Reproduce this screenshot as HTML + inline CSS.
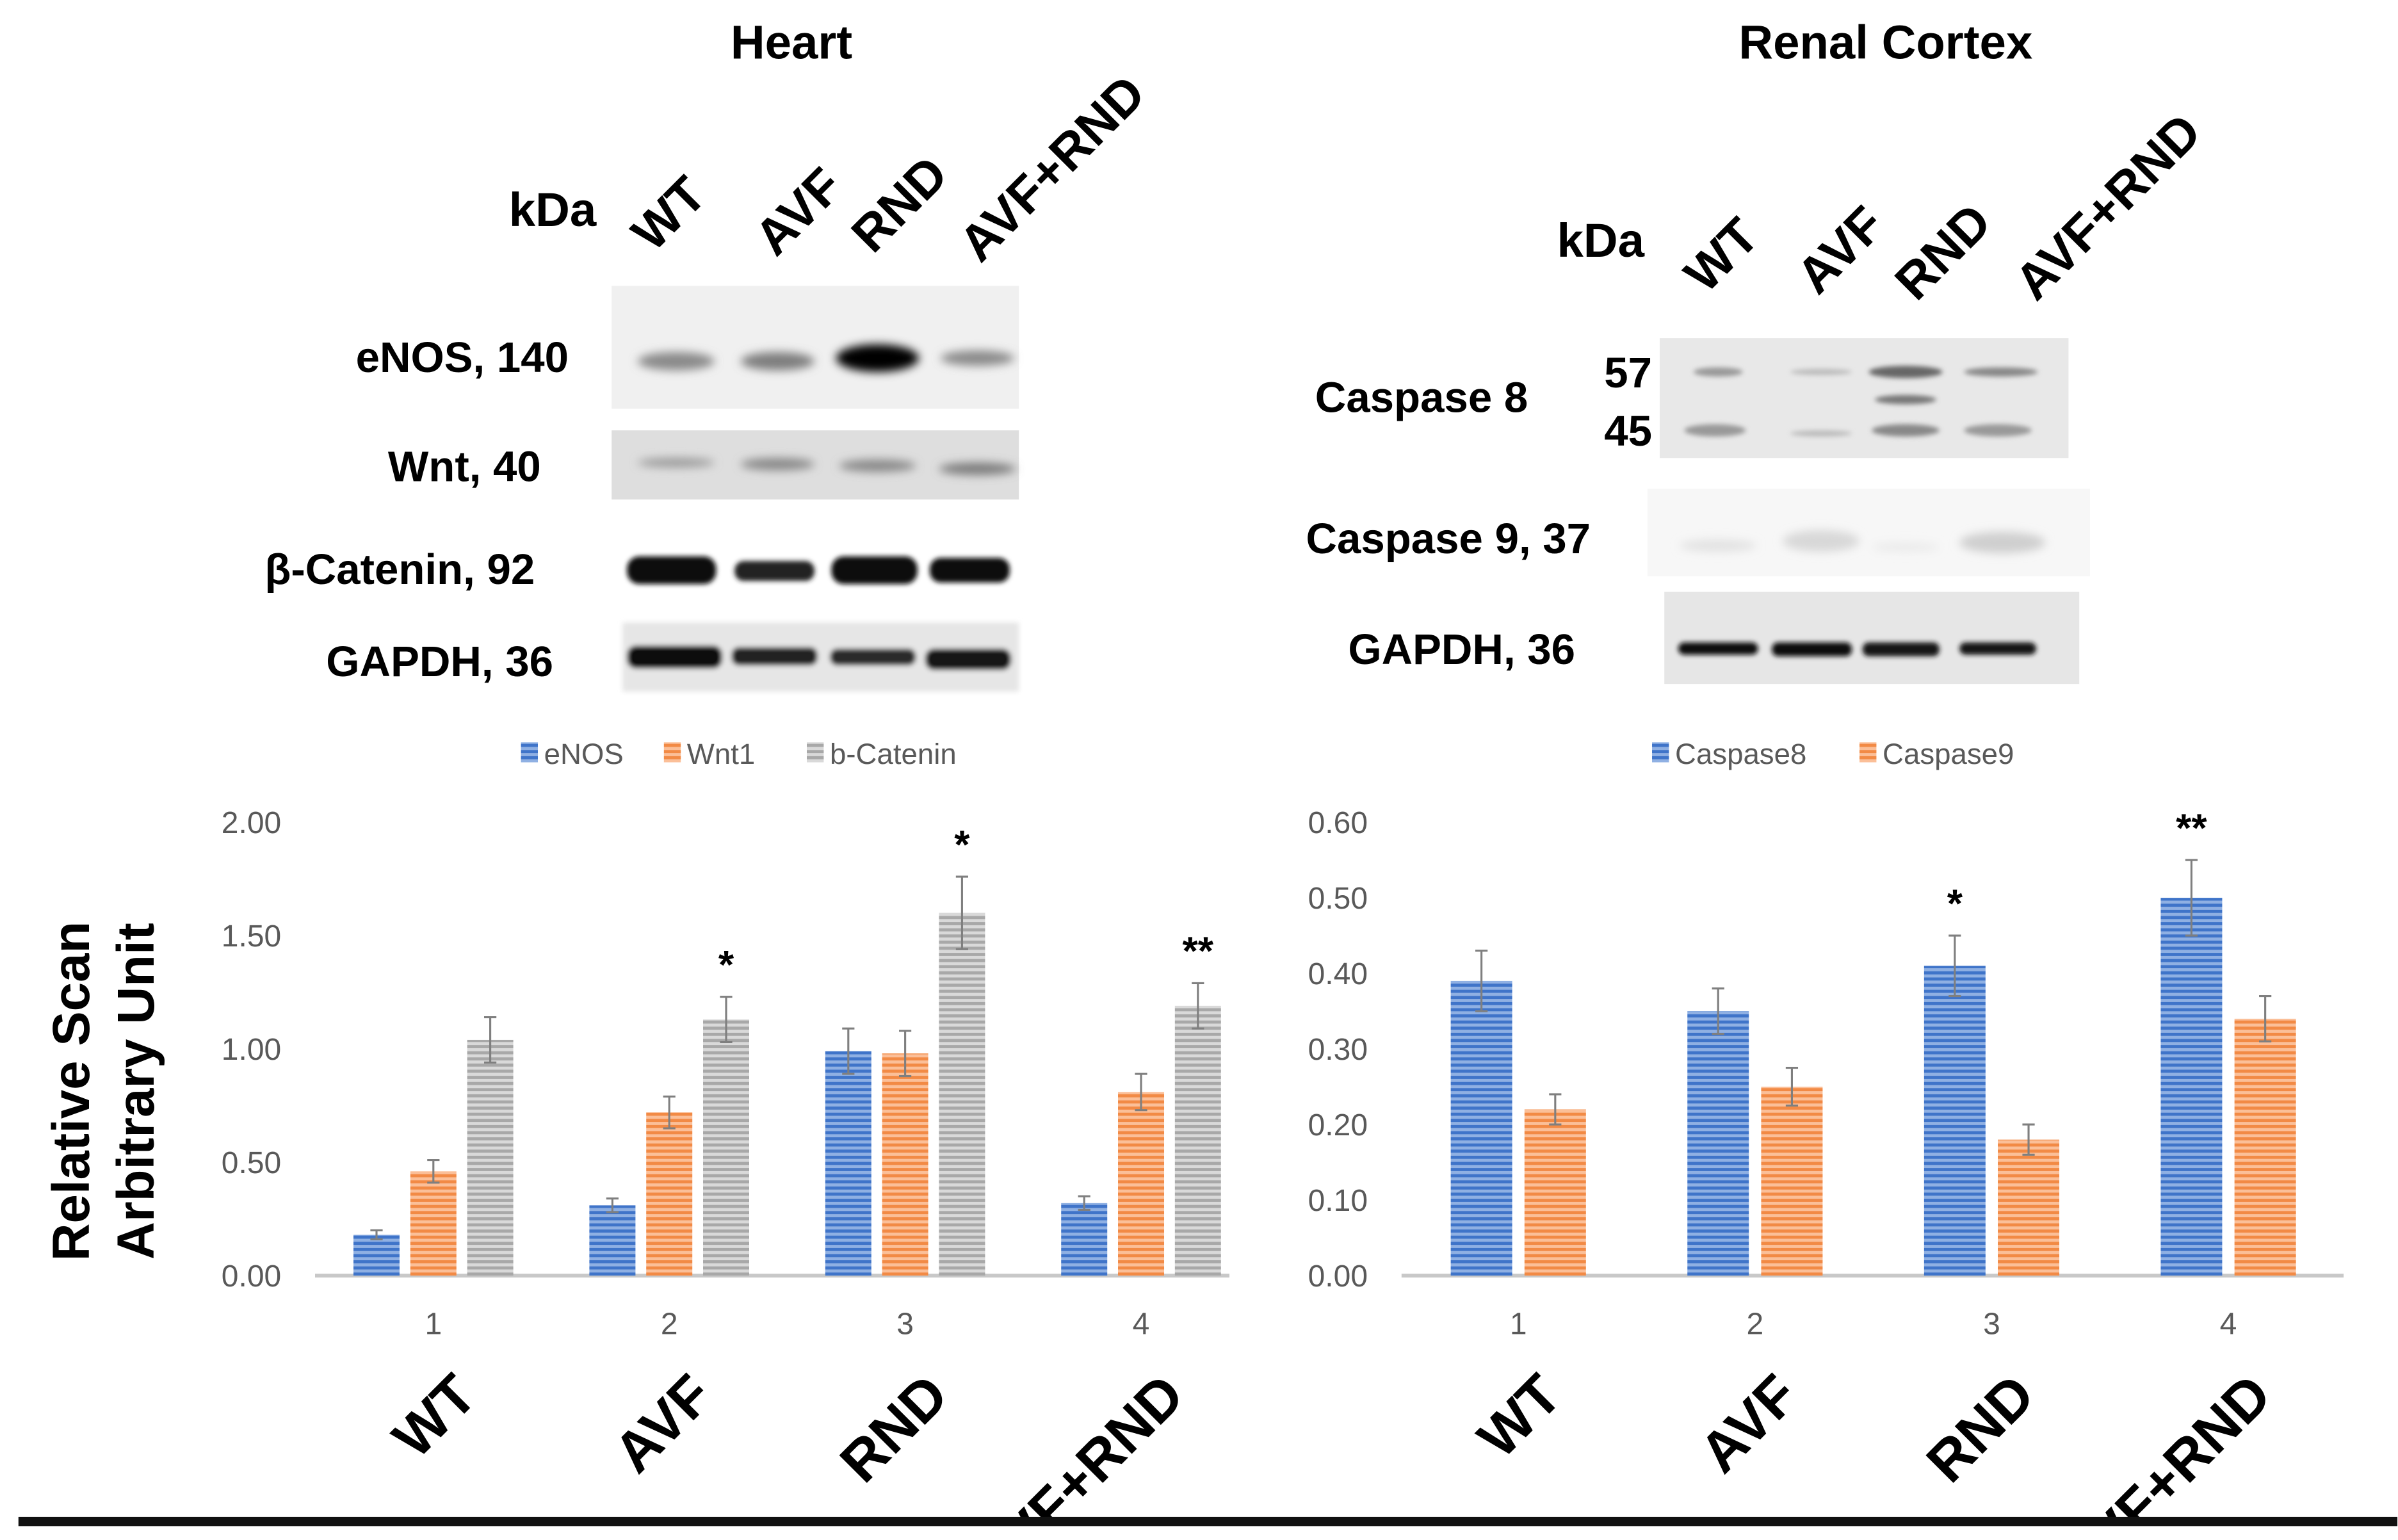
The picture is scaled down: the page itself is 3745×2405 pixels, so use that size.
<!DOCTYPE html>
<html><head><meta charset="utf-8"><style>
html,body{margin:0;padding:0;background:#fff;}
svg{display:block;}
text{font-family:"Liberation Sans",sans-serif;}
.b{font-weight:bold;fill:#000;}
.tk{fill:#595959;font-size:20px;}
</style></head><body>
<svg id="fig" width="3745" height="2405" viewBox="0 0 1560.4 1002" xmlns="http://www.w3.org/2000/svg">
<defs>
<pattern id="pB" width="4" height="4" patternUnits="userSpaceOnUse"><rect width="4" height="4" fill="#8fb0e3"/><rect width="4" height="2" fill="#3f74c9"/></pattern>
<pattern id="pO" width="4" height="4" patternUnits="userSpaceOnUse"><rect width="4" height="4" fill="#fbbf98"/><rect width="4" height="2" fill="#f28a45"/></pattern>
<pattern id="pG" width="4" height="4" patternUnits="userSpaceOnUse"><rect width="4" height="4" fill="#d9d9d9"/><rect width="4" height="2" fill="#a8a8a8"/></pattern>
<filter id="bl" x="-20%" y="-100%" width="140%" height="300%"><feGaussianBlur stdDeviation="3"/></filter>
<filter id="bl2" x="-20%" y="-100%" width="140%" height="300%"><feGaussianBlur stdDeviation="1.5"/></filter>
<clipPath id="clipTop"><rect x="0" y="0" width="1561" height="988"/></clipPath>
</defs>

<!-- Titles -->
<text class="b" x="515" y="38" font-size="31" text-anchor="middle">Heart</text>
<text class="b" x="1227" y="38" font-size="31" text-anchor="middle">Renal Cortex</text>

<!-- Heart blot -->
<g>
<text class="b" x="388" y="147" font-size="31" text-anchor="end">kDa</text>
<text class="b" font-size="33" transform="translate(425,165) rotate(-45)">WT</text>
<text class="b" font-size="33" transform="translate(505,168) rotate(-45)">AVF</text>
<text class="b" font-size="33" transform="translate(568,166) rotate(-45)">RND</text>
<text class="b" font-size="33" transform="translate(638,172) rotate(-45)">AVF+RND</text>
<text class="b" x="370" y="242" font-size="28" text-anchor="end">eNOS, 140</text>
<text class="b" x="352" y="313" font-size="28" text-anchor="end">Wnt, 40</text>
<text class="b" x="348" y="380" font-size="28" text-anchor="end">β-Catenin, 92</text>
<text class="b" x="360" y="440" font-size="28" text-anchor="end">GAPDH, 36</text>
<rect x="398" y="186" width="265" height="80" fill="#f0f0f0"/>
<rect x="398" y="280" width="265" height="45" fill="#dedede"/>
<g filter="url(#bl)">
<ellipse cx="440" cy="235" rx="25" ry="6" fill="#8a8a8a"/>
<ellipse cx="506" cy="235" rx="24" ry="6" fill="#7e7e7e"/>
<ellipse cx="571" cy="233" rx="27" ry="9" fill="#000"/>
<ellipse cx="636" cy="233" rx="24" ry="5" fill="#8a8a8a"/>
<ellipse cx="440" cy="301" rx="25" ry="3" fill="#999"/>
<ellipse cx="506" cy="302" rx="24" ry="4" fill="#888"/>
<ellipse cx="571" cy="303" rx="25" ry="4" fill="#888"/>
<ellipse cx="636" cy="305" rx="25" ry="4" fill="#7a7a7a"/>
</g>
<g filter="url(#bl2)">
<rect x="408" y="362" width="58" height="18" rx="8" fill="#0a0a0a"/>
<rect x="478" y="365" width="52" height="13" rx="6" fill="#222"/>
<rect x="541" y="362" width="56" height="18" rx="8" fill="#0a0a0a"/>
<rect x="605" y="363" width="52" height="16" rx="7" fill="#111"/>
<rect x="405" y="405" width="258" height="45" fill="#e6e6e6"/>
<rect x="408" y="420" width="62" height="15" rx="6" fill="#111"/>
<rect x="476" y="421" width="56" height="12" rx="5" fill="#222"/>
<rect x="540" y="422" width="56" height="11" rx="5" fill="#2a2a2a"/>
<rect x="602" y="422" width="56" height="14" rx="6" fill="#151515"/>
</g>
</g>

<!-- Renal blot -->
<g>
<text class="b" x="1070" y="167" font-size="31" text-anchor="end">kDa</text>
<text class="b" font-size="33" transform="translate(1110,192) rotate(-45)">WT</text>
<text class="b" font-size="33" transform="translate(1183,193) rotate(-45)">AVF</text>
<text class="b" font-size="33" transform="translate(1247,197) rotate(-45)">RND</text>
<text class="b" font-size="33" transform="translate(1325,197) rotate(-45)">AVF+RND</text>
<text class="b" x="925" y="268" font-size="28" text-anchor="middle">Caspase 8</text>
<text class="b" x="1075" y="252" font-size="28" text-anchor="end">57</text>
<text class="b" x="1075" y="290" font-size="28" text-anchor="end">45</text>
<text class="b" x="1035" y="360" font-size="28" text-anchor="end">Caspase 9, 37</text>
<text class="b" x="1025" y="432" font-size="28" text-anchor="end">GAPDH, 36</text>
<rect x="1080" y="220" width="266" height="78" fill="#e8e8e8"/>
<rect x="1072" y="318" width="288" height="57" fill="#f7f7f7"/>
<rect x="1083" y="385" width="270" height="60" fill="#e6e6e6"/>
<g filter="url(#bl2)">
<ellipse cx="1118" cy="242" rx="16" ry="3" fill="#999"/>
<ellipse cx="1185" cy="242" rx="20" ry="2" fill="#bbb"/>
<ellipse cx="1240" cy="242" rx="24" ry="4" fill="#666"/>
<ellipse cx="1240" cy="260" rx="20" ry="3" fill="#777"/>
<ellipse cx="1302" cy="242" rx="24" ry="3" fill="#888"/>
<ellipse cx="1116" cy="280" rx="20" ry="4" fill="#999"/>
<ellipse cx="1185" cy="282" rx="20" ry="2" fill="#bbb"/>
<ellipse cx="1240" cy="280" rx="22" ry="4" fill="#888"/>
<ellipse cx="1300" cy="280" rx="22" ry="4" fill="#999"/>
<rect x="1092" y="418" width="52" height="8" rx="4" fill="#111"/>
<rect x="1153" y="418" width="52" height="9" rx="4" fill="#111"/>
<rect x="1212" y="418" width="50" height="9" rx="4" fill="#151515"/>
<rect x="1275" y="418" width="50" height="8" rx="4" fill="#151515"/>
</g>
<g filter="url(#bl)">
<ellipse cx="1118" cy="355" rx="25" ry="4" fill="#e2e2e2"/>
<ellipse cx="1185" cy="352" rx="25" ry="7" fill="#d8d8d8"/>
<ellipse cx="1240" cy="356" rx="22" ry="3" fill="#eaeaea"/>
<ellipse cx="1303" cy="353" rx="28" ry="7" fill="#cfcfcf"/>
</g>
</g>

<!-- Y title -->
<text class="b" font-size="34" transform="translate(58,710) rotate(-90)" text-anchor="middle">Relative Scan</text>
<text class="b" font-size="34" transform="translate(100,710) rotate(-90)" text-anchor="middle">Arbitrary Unit</text>

<g clip-path="url(#clipTop)">
<g id="heartChart"></g>
<g id="renalChart"></g>
</g>

<rect x="12" y="987" width="1548" height="6" fill="#111"/>
</svg>
<script>
// Heart chart data
const heartCategories = ["1", "2", "3", "4"];
const heartGroupLabels = ["WT", "AVF", "RND", "AVF+RND"];
const heartSeriesNames = ["eNOS", "Wnt1", "b-Catenin"];
const eNOSValues = [0.18, 0.31, 0.99, 0.32];
const eNOSErrors = [0.02, 0.03, 0.10, 0.03];
const wnt1Values = [0.46, 0.72, 0.98, 0.81];
const wnt1Errors = [0.05, 0.07, 0.10, 0.08];
const bCateninValues = [1.04, 1.13, 1.60, 1.19];
const bCateninErrors = [0.10, 0.10, 0.16, 0.10];
const heartStars = ["", "*", "*", "**"];
const heartTicks = [0, 0.5, 1.0, 1.5, 2.0];
const heartTickLabels = ["0.00", "0.50", "1.00", "1.50", "2.00"];
// Renal chart data
const renalCategories = ["1", "2", "3", "4"];
const renalGroupLabels = ["WT", "AVF", "RND", "AVF+RND"];
const renalSeriesNames = ["Caspase8", "Caspase9"];
const casp8Values = [0.39, 0.35, 0.41, 0.50];
const casp8Errors = [0.04, 0.03, 0.04, 0.05];
const casp9Values = [0.22, 0.25, 0.18, 0.34];
const casp9Errors = [0.02, 0.025, 0.02, 0.03];
const renalStars = ["", "", "*", "**"];
const renalTicks = [0, 0.1, 0.2, 0.3, 0.4, 0.5, 0.6];
const renalTickLabels = ["0.00", "0.10", "0.20", "0.30", "0.40", "0.50", "0.60"];

const NS = "http://www.w3.org/2000/svg";
function mk(parent, tag, attrs, txt) {
  const e = document.createElementNS(NS, tag);
  for (const k in attrs) e.setAttribute(k, attrs[k]);
  if (txt !== undefined) e.textContent = txt;
  parent.appendChild(e);
  return e;
}

function drawChart(g, cfg) {
  const y = v => cfg.y0 - (v / cfg.yMax) * (cfg.y0 - cfg.yTop);
  const xg = i => cfg.x1 + cfg.groupStep * i;
  cfg.ticks.forEach((t, i) => {
    const tl = mk(g, "text", {x: cfg.labelX, y: y(t) + 7, "text-anchor": "end", class: "tk"}, cfg.tickLabels[i]);
    
    
  });
  const ax = mk(g, "line", {x1: cfg.axL, x2: cfg.axR, y1: cfg.y0, y2: cfg.y0, stroke: "#c8c8c8", "stroke-width": 2.5});
  
  
  const ns = cfg.series.length;
  cfg.categories.forEach((c, i) => {
    const cx = xg(i);
    cfg.series.forEach((s, j) => {
      const bx = cx + (j - (ns - 1) / 2) * cfg.barStep - cfg.barW / 2;
      const v = s.values[i], e = s.errors[i];
      const r = mk(g, "rect", {x: bx, y: y(v), width: cfg.barW, height: cfg.y0 - y(v), fill: s.fill});
      
      
      const mx = bx + cfg.barW / 2;
      const eb = mk(g, "path", {d: `M${mx},${y(v + e)}V${y(v - e)}M${mx - 4},${y(v + e)}H${mx + 4}M${mx - 4},${y(v - e)}H${mx + 4}`, stroke: "#7f7f7f", "stroke-width": 1.3, fill: "none"});
      
      
    });
    if (cfg.stars[i]) {
      const si = cfg.starSeries;
      const s = cfg.series[si];
      const sx = cx + (si - (ns - 1) / 2) * cfg.barStep;
      const st = mk(g, "text", {x: sx, y: y(s.values[i] + s.errors[i]) - 12, "text-anchor": "middle", class: "b", "font-size": 26}, cfg.stars[i]);
      
      
    }
    const xl = mk(g, "text", {x: cx, y: cfg.y0 + 38, "text-anchor": "middle", class: "tk"}, c);
    
    
    const gl = mk(g, "text", {transform: `translate(${cx + 30},${cfg.y0 + 80}) rotate(-45)`, "text-anchor": "end", class: "b", "font-size": 37}, cfg.groupLabels[i]);
    
    
  });
  // legend
  let lx = cfg.legendX;
  cfg.series.forEach(s => {
    const lr = mk(g, "rect", {x: lx, y: 483, width: 11, height: 13, fill: s.fill});
    
    
    const lt = mk(g, "text", {x: lx + 15, y: 497, fill: "#595959", "font-size": 19}, s.name);
    
    
    lx += 15 + s.name.length * 10.5 + 36;
  });
}

drawChart(document.getElementById("heartChart"), {
  y0: 830, yTop: 535, yMax: 2.0, x1: 282, groupStep: 153.5, barW: 30, barStep: 37,
  axL: 205, axR: 800, labelX: 183, ticks: heartTicks, tickLabels: heartTickLabels,
  categories: heartCategories, groupLabels: heartGroupLabels, stars: heartStars, starSeries: 2,
  legendX: 339,
  series: [
    {name: heartSeriesNames[0], values: eNOSValues, errors: eNOSErrors, fill: "url(#pB)"},
    {name: heartSeriesNames[1], values: wnt1Values, errors: wnt1Errors, fill: "url(#pO)"},
    {name: heartSeriesNames[2], values: bCateninValues, errors: bCateninErrors, fill: "url(#pG)"}
  ]
});
drawChart(document.getElementById("renalChart"), {
  y0: 830, yTop: 535, yMax: 0.6, x1: 988, groupStep: 154, barW: 40, barStep: 48,
  axL: 912, axR: 1525, labelX: 890, ticks: renalTicks, tickLabels: renalTickLabels,
  categories: renalCategories, groupLabels: renalGroupLabels, stars: renalStars, starSeries: 0,
  legendX: 1075,
  series: [
    {name: renalSeriesNames[0], values: casp8Values, errors: casp8Errors, fill: "url(#pB)"},
    {name: renalSeriesNames[1], values: casp9Values, errors: casp9Errors, fill: "url(#pO)"}
  ]
});
</script>
</body></html>
